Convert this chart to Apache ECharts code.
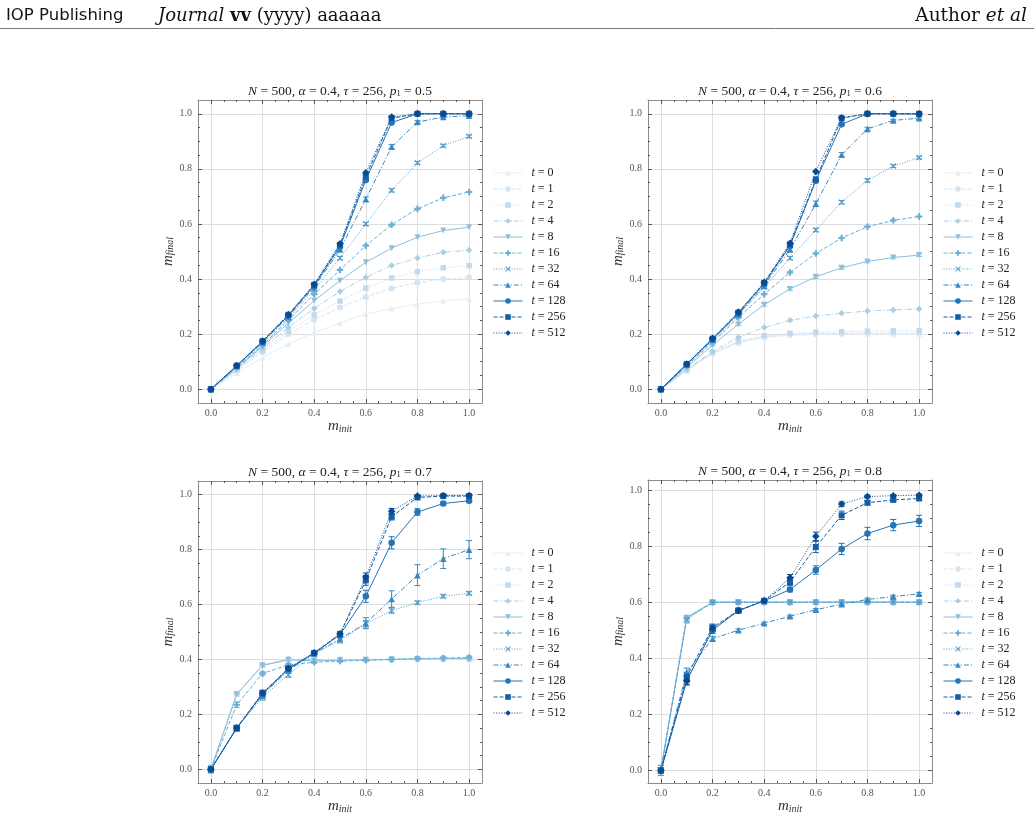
<!DOCTYPE html>
<html><head><meta charset="utf-8">
<script src="https://cdn.jsdelivr.net/npm/echarts@6/dist/echarts.min.js"></script>
<style>html,body{margin:0;padding:0;background:#fff}#c{width:1034px;height:817px}</style>
</head><body><div id="c"></div>
<script>
// ---------------- data ----------------
const xs = [0.0, 0.1, 0.2, 0.3, 0.4, 0.5, 0.6, 0.7, 0.8, 0.9, 1.0];
const tValues = ['0', '1', '2', '4', '8', '16', '32', '64', '128', '256', '512'];
const p1Values = ['0.5', '0.6', '0.7', '0.8'];
const majorTicks = [0.0, 0.2, 0.4, 0.6, 0.8, 1.0];
const minorTicks = [0.05, 0.1, 0.15, 0.25, 0.3, 0.35, 0.45, 0.5, 0.55, 0.65, 0.7, 0.75, 0.85, 0.9, 0.95];

// panel A : p1 = 0.5
const A_t0   = [0, 0.058, 0.115, 0.164, 0.206, 0.240, 0.273, 0.293, 0.309, 0.321, 0.327];
const A_t1   = [0, 0.066, 0.135, 0.200, 0.252, 0.297, 0.335, 0.366, 0.387, 0.400, 0.406];
const A_t2   = [0, 0.070, 0.140, 0.210, 0.270, 0.320, 0.367, 0.404, 0.427, 0.441, 0.449];
const A_t4   = [0, 0.073, 0.148, 0.225, 0.293, 0.355, 0.406, 0.449, 0.476, 0.497, 0.505];
const A_t8   = [0, 0.076, 0.155, 0.240, 0.321, 0.394, 0.461, 0.512, 0.552, 0.576, 0.588];
const A_t16  = [0, 0.080, 0.160, 0.250, 0.345, 0.433, 0.521, 0.597, 0.655, 0.695, 0.716];
const A_t32  = [0, 0.082, 0.165, 0.258, 0.360, 0.476, 0.600, 0.722, 0.822, 0.884, 0.918];
const A_t64  = [0, 0.084, 0.170, 0.264, 0.370, 0.507, 0.690, 0.880, 0.970, 0.988, 0.993];
const A_t128 = [0, 0.085, 0.173, 0.268, 0.376, 0.517, 0.760, 0.968, 1.000, 1.000, 1.000];
const A_t256 = [0, 0.085, 0.174, 0.270, 0.379, 0.524, 0.772, 0.984, 1.000, 1.000, 1.000];
const A_t512 = [0, 0.086, 0.175, 0.271, 0.381, 0.528, 0.786, 0.988, 1.000, 1.000, 1.000];
const A_e32  = [0.002, 0.003, 0.003, 0.004, 0.005, 0.006, 0.006, 0.006, 0.005, 0.005, 0.005];
const A_e64  = [0.002, 0.003, 0.003, 0.004, 0.005, 0.007, 0.008, 0.008, 0.005, 0.003, 0.003];

// panel B : p1 = 0.6
const B_t0   = [0, 0.068, 0.130, 0.168, 0.188, 0.196, 0.199, 0.200, 0.200, 0.200, 0.200];
const B_t1   = [0, 0.069, 0.132, 0.171, 0.191, 0.199, 0.202, 0.203, 0.204, 0.204, 0.204];
const B_t2   = [0, 0.070, 0.134, 0.174, 0.194, 0.203, 0.207, 0.209, 0.211, 0.212, 0.213];
const B_t4   = [0, 0.072, 0.137, 0.188, 0.224, 0.250, 0.266, 0.276, 0.284, 0.288, 0.291];
const B_t8   = [0, 0.080, 0.160, 0.236, 0.307, 0.364, 0.408, 0.441, 0.464, 0.478, 0.487];
const B_t16  = [0, 0.085, 0.170, 0.260, 0.345, 0.424, 0.493, 0.549, 0.590, 0.613, 0.627];
const B_t32  = [0, 0.088, 0.176, 0.268, 0.370, 0.476, 0.578, 0.679, 0.758, 0.810, 0.841];
const B_t64  = [0, 0.090, 0.180, 0.272, 0.376, 0.507, 0.673, 0.851, 0.945, 0.976, 0.984];
const B_t128 = [0, 0.091, 0.182, 0.276, 0.383, 0.520, 0.757, 0.962, 1.000, 1.000, 0.999];
const B_t256 = [0, 0.091, 0.183, 0.278, 0.386, 0.525, 0.762, 0.984, 1.000, 1.000, 1.000];
const B_t512 = [0, 0.092, 0.185, 0.280, 0.388, 0.530, 0.790, 0.986, 1.000, 1.000, 1.000];
const B_e8   = [0.002, 0.003, 0.003, 0.004, 0.005, 0.005, 0.005, 0.005, 0.005, 0.005, 0.005];
const B_e32  = [0.002, 0.003, 0.003, 0.004, 0.005, 0.006, 0.006, 0.006, 0.006, 0.005, 0.005];
const B_e64  = [0.002, 0.003, 0.003, 0.004, 0.005, 0.007, 0.010, 0.008, 0.006, 0.004, 0.004];

// panel C : p1 = 0.7
const C_t0   = [0, 0.274, 0.378, 0.398, 0.400, 0.400, 0.400, 0.400, 0.400, 0.400, 0.400];
const C_t1   = [0, 0.275, 0.380, 0.399, 0.400, 0.400, 0.400, 0.401, 0.401, 0.401, 0.401];
const C_t2   = [0, 0.275, 0.380, 0.400, 0.400, 0.400, 0.401, 0.401, 0.402, 0.402, 0.402];
const C_t4   = [0, 0.274, 0.379, 0.400, 0.400, 0.398, 0.399, 0.400, 0.402, 0.403, 0.403];
const C_t8   = [0, 0.273, 0.378, 0.399, 0.395, 0.397, 0.398, 0.400, 0.402, 0.403, 0.404];
const C_t16  = [0, 0.235, 0.349, 0.380, 0.390, 0.394, 0.397, 0.400, 0.403, 0.405, 0.407];
const C_t32  = [0, 0.150, 0.262, 0.345, 0.420, 0.470, 0.530, 0.578, 0.607, 0.630, 0.641];
const C_t64  = [0, 0.150, 0.270, 0.360, 0.422, 0.475, 0.532, 0.620, 0.707, 0.767, 0.800];
const C_t128 = [0, 0.150, 0.275, 0.365, 0.423, 0.490, 0.630, 0.825, 0.937, 0.968, 0.978];
const C_t256 = [0, 0.150, 0.277, 0.367, 0.424, 0.492, 0.688, 0.920, 0.990, 0.995, 0.995];
const C_t512 = [0, 0.150, 0.278, 0.368, 0.424, 0.494, 0.700, 0.940, 0.995, 0.997, 0.997];
const C_e8   = [0.015, 0.008, 0.005, 0.004, 0.003, 0.003, 0.003, 0.003, 0.003, 0.003, 0.003];
const C_e16  = [0.012, 0.010, 0.006, 0.005, 0.004, 0.004, 0.004, 0.004, 0.004, 0.004, 0.004];
const C_e32  = [0.005, 0.010, 0.010, 0.010, 0.005, 0.010, 0.012, 0.010, 0.006, 0.006, 0.006];
const C_e64  = [0.005, 0.010, 0.010, 0.010, 0.005, 0.010, 0.020, 0.030, 0.038, 0.036, 0.033];
const C_e128 = [0.005, 0.010, 0.010, 0.008, 0.005, 0.008, 0.022, 0.022, 0.012, 0.006, 0.005];
const C_e256 = [0.005, 0.008, 0.010, 0.008, 0.005, 0.008, 0.018, 0.012, 0.005, 0.003, 0.003];
const C_e512 = [0.005, 0.008, 0.010, 0.008, 0.005, 0.008, 0.015, 0.010, 0.004, 0.003, 0.003];

// panel D : p1 = 0.8
const D_t0   = [0, 0.548, 0.600, 0.600, 0.600, 0.600, 0.600, 0.600, 0.600, 0.600, 0.600];
const D_t1   = [0, 0.547, 0.600, 0.600, 0.600, 0.600, 0.600, 0.600, 0.600, 0.600, 0.600];
const D_t2   = [0, 0.546, 0.600, 0.600, 0.600, 0.600, 0.600, 0.600, 0.600, 0.600, 0.600];
const D_t4   = [0, 0.545, 0.600, 0.600, 0.600, 0.600, 0.600, 0.600, 0.600, 0.600, 0.600];
const D_t8   = [0, 0.544, 0.600, 0.600, 0.600, 0.600, 0.600, 0.600, 0.600, 0.600, 0.600];
const D_t16  = [0, 0.542, 0.600, 0.600, 0.600, 0.600, 0.600, 0.600, 0.600, 0.600, 0.600];
const D_t32  = [0, 0.538, 0.599, 0.600, 0.600, 0.600, 0.600, 0.600, 0.601, 0.601, 0.600];
const D_t64  = [0, 0.350, 0.470, 0.500, 0.525, 0.550, 0.573, 0.593, 0.610, 0.620, 0.630];
const D_t128 = [0, 0.320, 0.500, 0.570, 0.605, 0.645, 0.715, 0.790, 0.845, 0.875, 0.890];
const D_t256 = [0, 0.335, 0.510, 0.570, 0.605, 0.672, 0.797, 0.910, 0.955, 0.965, 0.970];
const D_t512 = [0, 0.320, 0.505, 0.570, 0.605, 0.687, 0.835, 0.950, 0.977, 0.980, 0.982];
const D_e16  = [0.018, 0.010, 0.004, 0.003, 0.003, 0.003, 0.003, 0.003, 0.003, 0.003, 0.003];
const D_e32  = [0.018, 0.012, 0.004, 0.003, 0.003, 0.003, 0.003, 0.003, 0.003, 0.003, 0.003];
const D_e64  = [0.010, 0.015, 0.008, 0.005, 0.004, 0.004, 0.004, 0.005, 0.005, 0.005, 0.005];
const D_e128 = [0.010, 0.015, 0.012, 0.008, 0.006, 0.008, 0.015, 0.020, 0.022, 0.020, 0.020];
const D_e256 = [0.010, 0.015, 0.012, 0.008, 0.006, 0.012, 0.020, 0.015, 0.008, 0.006, 0.006];
const D_e512 = [0.010, 0.015, 0.010, 0.006, 0.005, 0.012, 0.015, 0.008, 0.005, 0.004, 0.004];

const panelSeries = [
  [A_t0, A_t1, A_t2, A_t4, A_t8, A_t16, A_t32, A_t64, A_t128, A_t256, A_t512],
  [B_t0, B_t1, B_t2, B_t4, B_t8, B_t16, B_t32, B_t64, B_t128, B_t256, B_t512],
  [C_t0, C_t1, C_t2, C_t4, C_t8, C_t16, C_t32, C_t64, C_t128, C_t256, C_t512],
  [D_t0, D_t1, D_t2, D_t4, D_t8, D_t16, D_t32, D_t64, D_t128, D_t256, D_t512]
];
const panelErrors = [
  [null, null, null, null, null, null, A_e32, A_e64, null, null, null],
  [null, null, null, null, B_e8, null, B_e32, B_e64, null, null, null],
  [null, null, null, null, C_e8, C_e16, C_e32, C_e64, C_e128, C_e256, C_e512],
  [null, null, null, null, null, D_e16, D_e32, D_e64, D_e128, D_e256, D_e512]
];

// ---------------- styles / layout ----------------
const SERIF = '"Liberation Serif", "DejaVu Serif", serif';
const HSERIF = '"DejaVu Serif", "Liberation Serif", serif';
const SANS = '"DejaVu Sans", "Liberation Sans", sans-serif';
const colors = ['#e3eef9', '#d3e4f3', '#c3daee', '#a9cfe5', '#8cc0dd', '#6baed6', '#519ccc', '#3989c1', '#2474b6', '#135fa7', '#084a92'];
const dashes = ['solid', [4, 2], [1, 1.6], [5, 2, 1.2, 2]];
const symbols = [
  'triangle', 'circle', 'rect', 'diamond',
  'path://M0,0L10,0L5,10Z',
  'path://M3.3,0H6.7V3.3H10V6.7H6.7V10H3.3V6.7H0V3.3H3.3Z',
  'path://M1.2,0L5,3.8L8.8,0L10,1.2L6.2,5L10,8.8L8.8,10L5,6.2L1.2,10L0,8.8L3.8,5L0,1.2Z',
  'triangle', 'circle', 'rect', 'diamond'
];
const symbolSizes = [6, 6, 5.5, 6.5, 6, 6.5, 6, 6.5, 6.5, 6, 7.5];
const grids = [
  { left: 198, top: 100, width: 284, height: 303 },
  { left: 648, top: 100, width: 284, height: 303 },
  { left: 198, top: 481, width: 284, height: 302 },
  { left: 648, top: 480, width: 284, height: 303 }
];
const yRanges = [[-0.05, 1.05], [-0.05, 1.05], [-0.05, 1.05], [-0.045, 1.036]];
const legendPos = [{ left: 493, top: 167 }, { left: 943, top: 167 }, { left: 493, top: 547 }, { left: 943, top: 547 }];

const tickColor = '#555';
const frameColor = '#8c8c8c';
const nameRich = {
  i: { fontFamily: SERIF, fontStyle: 'italic', fontSize: 15, color: '#333', lineHeight: 16, verticalAlign: 'bottom' },
  s: { fontFamily: SERIF, fontStyle: 'italic', fontSize: 10, color: '#333', lineHeight: 9, verticalAlign: 'bottom' }
};

function makeAxes(p, dim) {
  const isX = dim === 'x';
  const rng = isX ? [-0.05, 1.05] : yRanges[p];
  const base = {
    gridIndex: p, type: 'value', min: rng[0], max: rng[1], splitNumber: 5,
    axisLine: { show: false, onZero: false }, splitLine: { show: false },
    axisLabel: { show: false }, axisTick: { show: false }
  };
  const majorTick = { show: true, inside: true, length: 4, customValues: majorTicks, lineStyle: { color: tickColor, width: 1 } };
  const minorTick = { show: true, inside: true, length: 2, customValues: minorTicks, lineStyle: { color: tickColor, width: 1 } };
  const line = { show: true, onZero: false, lineStyle: { color: frameColor, width: 1 } };
  const p0 = isX ? 'bottom' : 'left';
  const p1 = isX ? 'top' : 'right';
  const main = Object.assign({}, base, {
    position: p0, axisLine: line, axisTick: majorTick,
    axisLabel: { show: true, customValues: majorTicks, formatter: v => v.toFixed(1), fontFamily: SERIF, fontSize: 10, color: '#555', margin: isX ? 5 : 6 },
    splitLine: { show: true, lineStyle: { color: '#dedede', width: 1 } },
    name: isX ? '{i|m}{s|init}' : '{i|m}{s|final}',
    nameLocation: 'middle', nameGap: isX ? 14 : 20,
    nameTextStyle: { rich: nameRich }
  });
  return [
    main,
    Object.assign({}, base, { position: p0, axisTick: minorTick }),
    Object.assign({}, base, { position: p1, axisLine: line, axisTick: majorTick }),
    Object.assign({}, base, { position: p1, axisTick: minorTick })
  ];
}

const xAxis = [], yAxis = [], series = [], legend = [], grid = [], graphic = [];
for (let p = 0; p < 4; p++) {
  grid.push(Object.assign({ containLabel: false }, grids[p]));
  xAxis.push(...makeAxes(p, 'x'));
  yAxis.push(...makeAxes(p, 'y'));
  for (let j = 0; j < tValues.length; j++) {
    const ys = panelSeries[p][j];
    const errs = panelErrors[p][j];
    const name = 't = ' + tValues[j];
    series.push({
      type: 'line', name: name, xAxisIndex: 4 * p, yAxisIndex: 4 * p,
      data: xs.map((x, k) => [x, ys[k]]),
      symbol: symbols[j], symbolSize: symbolSizes[j],
      lineStyle: { color: colors[j], width: 1, type: dashes[j % 4] },
      itemStyle: { color: colors[j] },
      emphasis: { disabled: true }, animation: false, z: 3
    });
    if (errs) {
      series.push({
        type: 'custom', name: 'err' + p + '_' + j, xAxisIndex: 4 * p, yAxisIndex: 4 * p,
        data: xs.map((x, k) => [x, ys[k], errs[k]]),
        encode: { x: 0, y: 1 }, z: 3, animation: false, silent: true,
        renderItem: (params, api) => {
          const x = api.value(0), y = api.value(1), e = api.value(2);
          const top = api.coord([x, y + e]), bot = api.coord([x, y - e]);
          const st = { stroke: colors[j], lineWidth: 1 };
          return {
            type: 'group', children: [
              { type: 'line', shape: { x1: top[0], y1: top[1], x2: bot[0], y2: bot[1] }, style: st },
              { type: 'line', shape: { x1: top[0] - 3, y1: top[1], x2: top[0] + 3, y2: top[1] }, style: st },
              { type: 'line', shape: { x1: bot[0] - 3, y1: bot[1], x2: bot[0] + 3, y2: bot[1] }, style: st }
            ]
          };
        }
      });
    }
  }
  legend.push({
    orient: 'vertical', left: legendPos[p].left, top: legendPos[p].top, padding: 0,
    itemWidth: 29, itemHeight: 7, itemGap: 4, selectedMode: false,
    lineStyle: { width: 1 },
    data: tValues.map(t => 't = ' + t),
    formatter: n => '{i|t} = ' + n.split('= ')[1],
    textStyle: {
      fontFamily: SERIF, fontSize: 12, color: '#222', lineHeight: 12, padding: [0, 0, 0, 4],
      rich: { i: { fontFamily: SERIF, fontStyle: 'italic', fontSize: 12, color: '#222' } }
    }
  });
  const g = grids[p];
  graphic.push({
    type: 'text', x: g.left + g.width / 2, y: g.top - 9, silent: true,
    style: {
      text: '{i|N} = 500, {i|α} = 0.4, {i|τ} = 256, {i|p}{s|1} = ' + p1Values[p],
      x: 0, y: 0, align: 'center', verticalAlign: 'middle',
      fontFamily: SERIF, fontSize: 13.5, fill: '#222',
      rich: {
        i: { fontFamily: SERIF, fontStyle: 'italic', fontSize: 13.5, fill: '#222', lineHeight: 15, verticalAlign: 'bottom' },
        s: { fontFamily: SERIF, fontSize: 8.5, fill: '#222', lineHeight: 8, verticalAlign: 'bottom' }
      }
    }
  });
}

// header
graphic.push(
  { type: 'text', x: 6, y: 16, silent: true, style: { text: 'IOP Publishing', fontFamily: SANS, fontSize: 16.5, fill: '#111', verticalAlign: 'middle' } },
  { type: 'text', x: 158, y: 16, silent: true, style: {
      text: '{it|Journal} {b|vv} (yyyy) aaaaaa', fontFamily: HSERIF, fontSize: 18, fill: '#111', verticalAlign: 'middle',
      rich: { it: { fontFamily: HSERIF, fontStyle: 'italic', fontSize: 18, fill: '#111' }, b: { fontFamily: HSERIF, fontWeight: 'bold', fontSize: 18, fill: '#111' } } } },
  { type: 'text', x: 1027, y: 16, silent: true, style: {
      text: 'Author {it|et al}', fontFamily: HSERIF, fontSize: 18.5, fill: '#111', align: 'right', verticalAlign: 'middle',
      rich: { it: { fontFamily: HSERIF, fontStyle: 'italic', fontSize: 18.5, fill: '#111' } } } },
  { type: 'line', silent: true, shape: { x1: 0, y1: 28.5, x2: 1034, y2: 28.5 }, style: { stroke: '#7a7a7a', lineWidth: 1 } }
);

const chart = echarts.init(document.getElementById('c'), null, { renderer: 'canvas' });
chart.setOption({
  animation: false, backgroundColor: '#fff',
  grid, xAxis, yAxis, series, legend, graphic
});
</script></body></html>
